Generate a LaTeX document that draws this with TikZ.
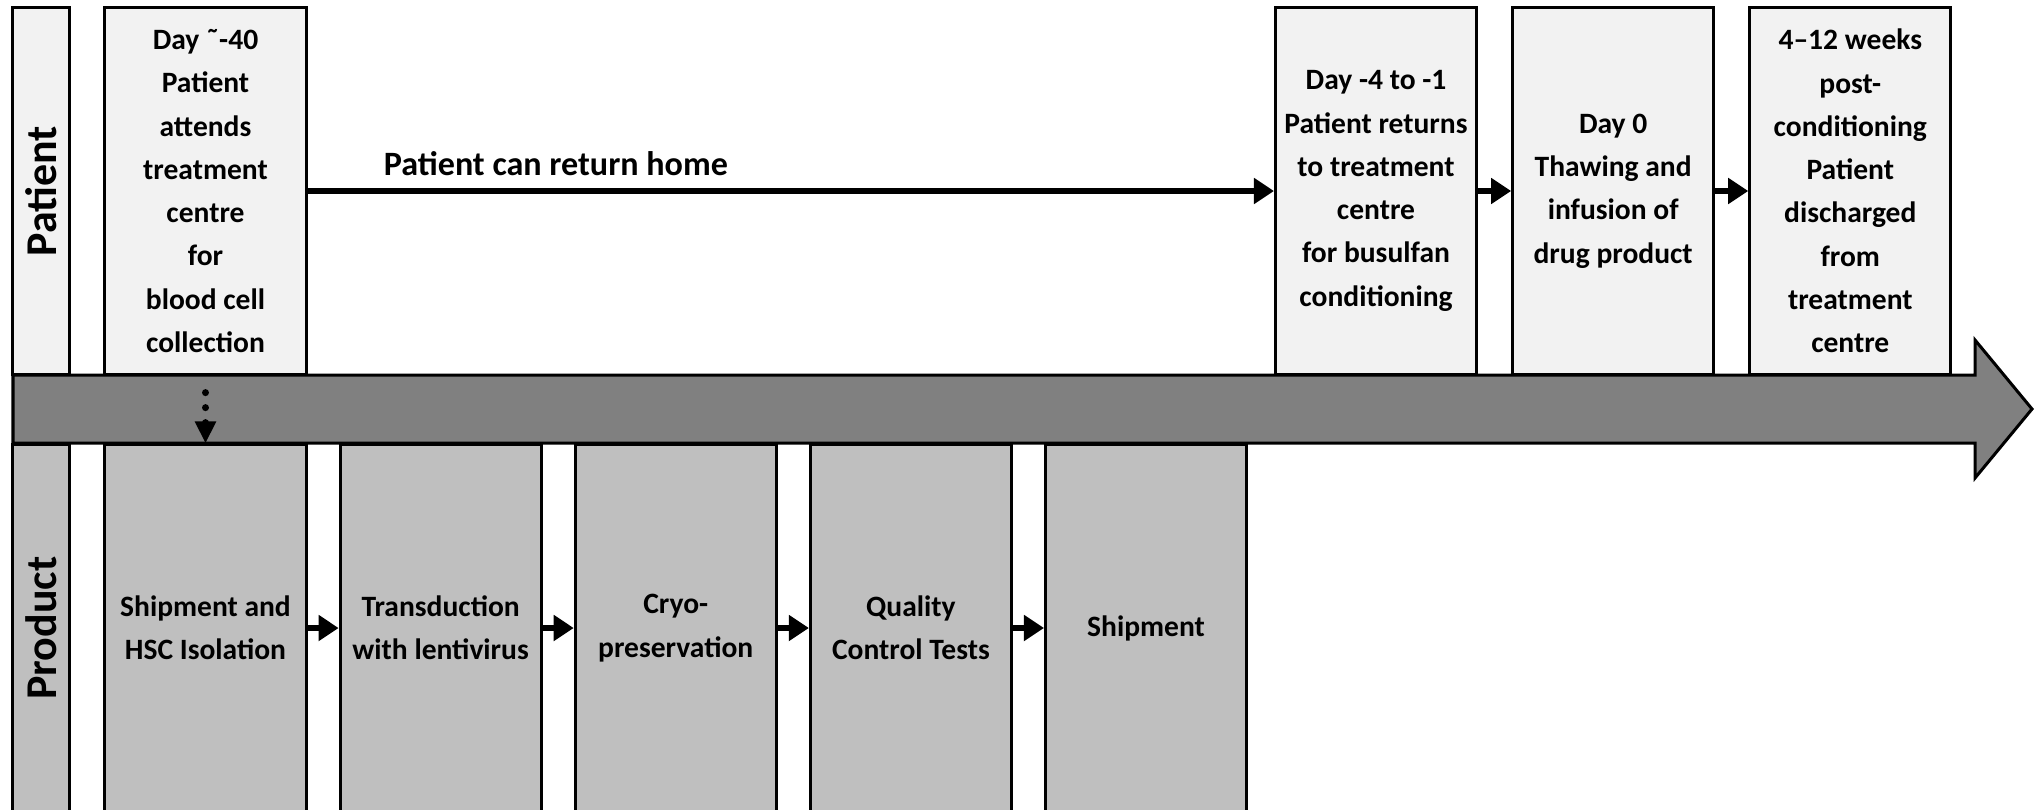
\documentclass[tikz,border=0pt]{standalone}
\usepackage{fontspec}
\setmainfont{Carlito}
\usepackage{xcolor}
\usepackage{tikz}
\usetikzlibrary{arrows.meta, positioning}
\definecolor{patfill}{RGB}{242, 242, 242}
\definecolor{prodfill}{RGB}{191, 191, 191}
\definecolor{bandgray}{RGB}{128, 128, 128}

\begin{document}
\begin{tikzpicture}[
  x=0.01cm, y=-0.01cm,
  node distance=0.33cm,
  every node/.style={font=\bfseries},
  lane/.style={draw, line width=0.03cm, rotate=90, inner sep=0pt,
               minimum width=3.66cm, minimum height=0.56cm,
               font=\fontsize{12.5}{15}\selectfont\bfseries},
  patbox/.style={draw, line width=0.03cm, fill=patfill, align=center,
                 minimum width=2.01cm, minimum height=3.66cm, inner sep=1pt,
                 font=\fontsize{8.4}{12.3}\selectfont\bfseries},
  prodbox/.style={patbox, fill=prodfill},
  arrow/.style={-{Triangle[length=0.2cm, width=0.25cm]}, line width=0.065cm},
  dotarrow/.style={-{Triangle[length=0.22cm, width=0.2cm]}, line width=0.07cm,
                   line cap=round, dash pattern=on 0pt off 0.15cm,
                   shorten <=0.17cm},
  lb/.style={font=\fontsize{9.7}{12}\selectfont\bfseries, inner sep=0pt}
]
\useasboundingbox (0,0) rectangle (2034,809);
\clip (0,0) rectangle (2034,809);

% ── Timeline band ───────────────────────────────────────────────────────────
\draw[line width=0.03cm, fill=bandgray]
  (13,375) -- (1975,375) -- (1975,340) -- (2032,409)
  -- (1975,478) -- (1975,443) -- (13,443) -- cycle;

% ── Patient lane ────────────────────────────────────────────────────────────
\node[lane, fill=patfill] (plab) at (41,191) {Patient};

\node[patbox] (day40) at (205.5,191)
  {Day ˜-40\\Patient\\attends\\treatment\\centre\\for\\blood cell\\collection};

\node[patbox] (day4) at (1376,191)
  {Day -4 to -1\\Patient returns\\to treatment\\centre\\for busulfan\\conditioning};

\node[patbox, right=of day4] (day0)
  {Day 0\\Thawing and\\infusion of\\drug product};

\node[patbox, right=of day0] (weeks)
  {4--12 weeks\\post-\\conditioning\\Patient\\discharged\\from\\treatment\\centre};

% ── Product lane ────────────────────────────────────────────────────────────
\node[lane, fill=prodfill] (prlab) at (41,628) {Product};

\node[prodbox] (hsc) at (205.5,628) {Shipment and\\HSC Isolation};
\node[prodbox, right=0.31cm of hsc] (transd) {Transduction\\with lentivirus};
\node[prodbox, right=0.31cm of transd] (cryo) {Cryo-\\preservation};
\node[prodbox, right=0.31cm of cryo] (qc) {Quality\\Control Tests};
\node[prodbox, right=0.31cm of qc] (ship) {Shipment};

% ── Arrows ──────────────────────────────────────────────────────────────────
% Patient goes home, then back
\draw[arrow]
  (day40.east) --
  node[lb, pos=0, anchor=base west, xshift=0.73cm, yshift=0.15cm]
  {Patient can return home}
  (day4.west);
\draw[arrow] (day4.east) -- (day0.west);
\draw[arrow] (day0.east) -- (weeks.west);

% Collected cells go to manufacturing
\draw[dotarrow] (day40.south) -- (hsc.north);

% Manufacturing steps
\draw[arrow] (hsc.east) -- (transd.west);
\draw[arrow] (transd.east) -- (cryo.west);
\draw[arrow] (cryo.east) -- (qc.west);
\draw[arrow] (qc.east) -- (ship.west);

\end{tikzpicture}
\end{document}
